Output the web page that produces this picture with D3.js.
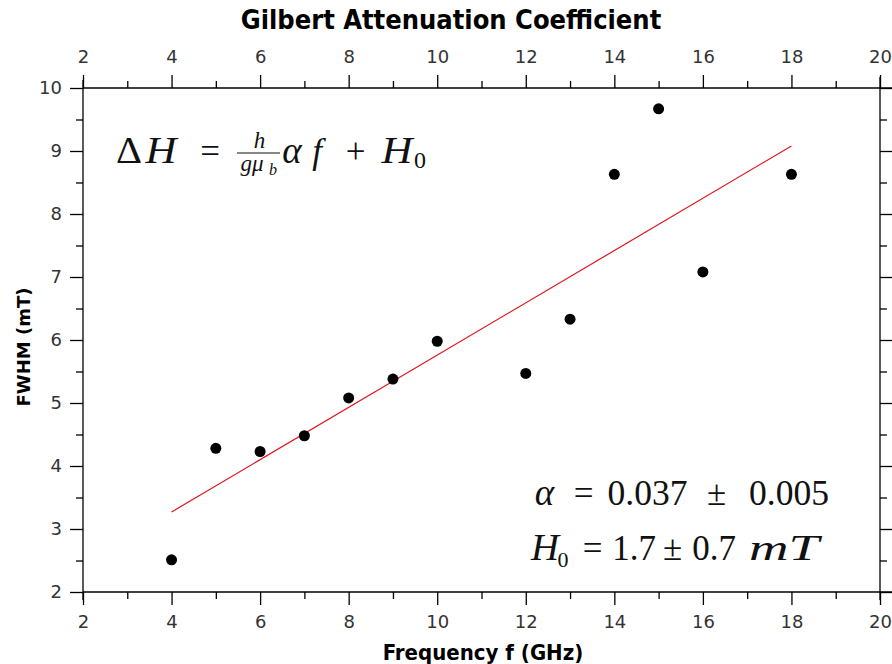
<!DOCTYPE html>
<html>
<head>
<meta charset="utf-8">
<script src="https://cdn.jsdelivr.net/npm/d3@7"></script>
<style>
  body { margin: 0; background: #fff; }
  svg { display: block; }
</style>
</head>
<body>
<div id="chart"></div>
<script>
// measured linewidth vs frequency
const freqGHz = [4, 5, 6, 7, 8, 9, 10, 12, 13, 14, 15, 16, 18];
const fwhm_mT = [2.51, 4.28, 4.23, 4.48, 5.08, 5.38, 5.98, 5.47, 6.33, 8.63, 9.67, 7.08, 8.63];

// linear fit drawn across the measured range
const fitRange = [4, 18];
const fitSlope = 0.415;
const fitIntercept = 1.61;

const xMajor = [2, 4, 6, 8, 10, 12, 14, 16, 18, 20];
const xMinor = [3, 5, 7, 9, 11, 13, 15, 17, 19];
const yMajor = [2, 3, 4, 5, 6, 7, 8, 9, 10];
const yMinor = [2.5, 3.5, 4.5, 5.5, 6.5, 7.5, 8.5, 9.5];

const W = 892, H = 664;
const margin = { top: 88, right: 12, bottom: 72, left: 83 };

const svg = d3.select("#chart").append("svg")
    .attr("width", W)
    .attr("height", H);

const x = d3.scaleLinear().domain([2, 20]).range([margin.left, W - margin.right]);
const y = d3.scaleLinear().domain([2, 10]).range([H - margin.bottom, margin.top]);

const x0 = x.range()[0], x1 = x.range()[1];
const y0 = y.range()[0], y1 = y.range()[1];

const tickFont = "DejaVu Sans, sans-serif";

// draws one side of the frame: major ticks with labels, minor ticks without
function side(axisFn, scale, major, minor, pos, showLabels, pad) {
    const g = svg.append("g").attr("transform", pos);
    g.append("g").call(axisFn(scale).tickValues(major).tickSize(13).tickSizeOuter(0)
        .tickPadding(pad).tickFormat(showLabels ? d3.format("d") : ""));
    g.append("g").call(axisFn(scale).tickValues(minor).tickSize(7).tickSizeOuter(0).tickFormat(""));
    g.selectAll(".domain").remove();
    g.selectAll(".tick line").attr("stroke", "#000").attr("stroke-width", 1.3);
    g.selectAll(".tick text")
        .attr("fill", "#333")
        .style("font-family", tickFont)
        .style("font-size", "18px");
    return g;
}

side(d3.axisBottom, x, xMajor, xMinor, `translate(0,${y0})`, true, 10);
side(d3.axisTop, x, xMajor, xMinor, `translate(0,${y1})`, true, 12);
side(d3.axisLeft, y, yMajor, yMinor, `translate(${x0},0)`, true, 8);
side(d3.axisRight, y, yMajor, yMinor, `translate(${x1},0)`, false, 8);

// frame lines, slightly overshooting at the corners
const frame = svg.append("g").attr("stroke", "#000").attr("stroke-width", 1.3);
frame.append("line").attr("x1", x0).attr("x2", W).attr("y1", y0).attr("y2", y0);
frame.append("line").attr("x1", x0).attr("x2", W).attr("y1", y1).attr("y2", y1);
frame.append("line").attr("x1", x0).attr("x2", x0).attr("y1", y1 - 8).attr("y2", y0 + 8);
frame.append("line").attr("x1", x1).attr("x2", x1).attr("y1", y1 - 11).attr("y2", y0 + 8);

// fit line
svg.append("line")
    .attr("x1", x(fitRange[0])).attr("y1", y(fitIntercept + fitSlope * fitRange[0]))
    .attr("x2", x(fitRange[1])).attr("y2", y(fitIntercept + fitSlope * fitRange[1]))
    .attr("stroke", "#e0141b")
    .attr("stroke-width", 1.2);

// data points
svg.append("g").selectAll("circle")
    .data(freqGHz.map((f, i) => [f, fwhm_mT[i]]))
    .join("circle")
    .attr("cx", d => x(d[0]))
    .attr("cy", d => y(d[1]))
    .attr("r", 5.5)
    .attr("fill", "#000");

// axis titles
svg.append("text")
    .attr("x", 451).attr("y", 29)
    .attr("text-anchor", "middle")
    .style("font-family", "DejaVu Sans Condensed, DejaVu Sans, sans-serif")
    .style("font-weight", "bold")
    .style("font-size", "27px")
    .text("Gilbert Attenuation Coefficient");

svg.append("text")
    .attr("x", 483).attr("y", 660)
    .attr("text-anchor", "middle")
    .style("font-family", "DejaVu Sans Condensed, DejaVu Sans, sans-serif")
    .style("font-weight", "bold")
    .style("font-size", "22px")
    .text("Frequency f (GHz)");

svg.append("text")
    .attr("transform", "translate(30,347) rotate(-90)")
    .attr("text-anchor", "middle")
    .style("font-family", "DejaVu Sans, sans-serif")
    .style("font-weight", "bold")
    .style("font-size", "18px")
    .text("FWHM (mT)");

// equations in a serif math style; each piece centred on its own x
const mathFont = "Liberation Serif, DejaVu Serif, serif";

const eq = svg.append("g")
    .style("font-family", mathFont)
    .style("font-size", "35px")
    .attr("text-anchor", "middle")
    .attr("fill", "#111");

function mathText(cx, base, txt, opts = {}) {
    const t = eq.append("text").attr("x", cx).attr("y", base).text(txt);
    if (opts.italic) t.style("font-style", "italic");
    if (opts.size) t.style("font-size", opts.size + "px");
    if (opts.len) t.attr("textLength", opts.len).attr("lengthAdjust", "spacingAndGlyphs");
    return t;
}

// Delta H = h/(g mu_b) alpha f + H_0
mathText(129, 163, "\u0394", { size: 37, len: 26 });
mathText(161, 163, "H", { italic: true, size: 37, len: 31 });
mathText(210, 163, "=");
mathText(292, 163, "\u03b1", { italic: true, size: 37 });
mathText(317, 163, "f", { italic: true });
mathText(355.5, 163, "+");
mathText(397, 163, "H", { italic: true, size: 37, len: 31 });
mathText(420, 168, "0", { size: 24 });

mathText(259.5, 148, "h", { italic: true, size: 23 });
eq.append("line").attr("x1", 237).attr("x2", 280)
    .attr("y1", 153).attr("y2", 153)
    .attr("stroke", "#111").attr("stroke-width", 1.2);
mathText(252, 171, "g\u03bc", { italic: true, size: 23 });
mathText(273, 175, "b", { italic: true, size: 16 });

// fitted parameters
mathText(544.5, 505, "\u03b1", { italic: true, size: 37 });
mathText(583.5, 505, "=");
mathText(647.5, 505, "0.037", { len: 80 });
mathText(716.5, 505, "\u00b1");
mathText(789, 505, "0.005", { len: 80 });

mathText(545, 560, "H", { italic: true, size: 37, len: 28 });
mathText(563, 567, "0", { size: 22 });
mathText(592.5, 560, "=");
mathText(634, 560, "1.7");
mathText(672.5, 560, "\u00b1");
mathText(714, 560, "0.7");
mathText(784, 560, "mT", { italic: true, size: 36, len: 70 });
</script>
</body>
</html>
